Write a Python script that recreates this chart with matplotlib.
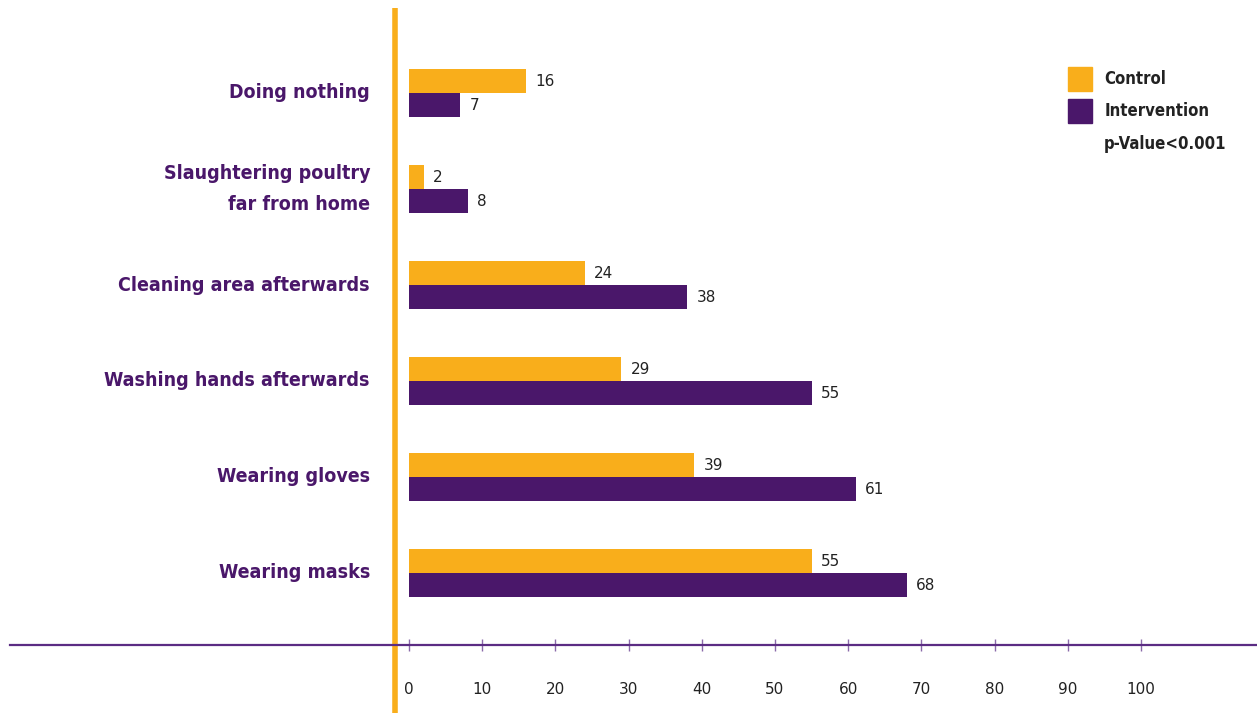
import matplotlib.pyplot as plt
import matplotlib.patches as mpatches

# survey results, % of respondents
categories = ["Wearing masks", "Wearing gloves", "Washing hands afterwards",
              "Cleaning area afterwards", "Slaughtering poultry\nfar from home",
              "Doing nothing"]
control = [55, 39, 29, 24, 2, 16]
intervention = [68, 61, 55, 38, 8, 7]
xticks = [0, 10, 20, 30, 40, 50, 60, 70, 80, 90, 100]

ORANGE = "#F9AE1B"
PURPLE = "#4A176A"

W, H = 1257, 713
fig = plt.figure(figsize=(W / 100, H / 100), dpi=100)
# axes runs across the whole width, bottom spine is the baseline
ax = fig.add_axes([10 / W, (H - 645) / H, (W - 10) / W, (645 - 8) / H])

px = 7.32  # pixels per percent
ax.set_xlim((10 - 409) / px, (1257 - 409) / px)
ax.set_ylim(-0.75, -0.75 + 637 / 96)

ypos = list(range(len(categories)))
bh = 0.25
ax.barh([y + bh / 2 for y in ypos], control, height=bh, left=0, color=ORANGE, label="Control")
ax.barh([y - bh / 2 for y in ypos], intervention, height=bh, left=0, color=PURPLE, label="Intervention")

for y, c, i in zip(ypos, control, intervention):
    ax.text(c + 1.3, y + bh / 2, str(c), va="center", ha="left", fontsize=11, color="#222222")
    ax.text(i + 1.3, y - bh / 2, str(i), va="center", ha="left", fontsize=11, color="#222222")

for y, name in zip(ypos, categories):
    ax.text((370 - 409) / px, y, name, ha="right", va="center", fontsize=14,
            fontweight="bold", fontstretch="condensed", color=PURPLE,
            linespacing=1.83, multialignment="right")

# orange separator between labels and bars
sep = (395 - 409) / px
ax.plot([sep, sep], [-0.75 - 68 / 96, -0.75 + 637 / 96], color=ORANGE, lw=4,
        clip_on=False, solid_capstyle="butt")

for s in ["top", "right", "left"]:
    ax.spines[s].set_visible(False)
ax.spines["bottom"].set_color("#5B2C83")
ax.spines["bottom"].set_linewidth(1.6)
ax.set_yticks([])
ax.set_xticks(xticks)
ax.set_xticklabels([str(t) for t in xticks])
ax.tick_params(axis="x", direction="inout", length=9, width=1, color="#8B6BAA",
               labelsize=11, labelcolor="#222222", pad=22)

blank = mpatches.Patch(facecolor="none", edgecolor="none")
handles = [mpatches.Patch(color=ORANGE), mpatches.Patch(color=PURPLE), blank]
leg = ax.legend(handles, ["Control", "Intervention", "p-Value<0.001"],
                loc="upper left", bbox_to_anchor=(1068 / W, 1 - 67 / H),
                bbox_transform=fig.transFigure, frameon=False, borderpad=0,
                borderaxespad=0, handlelength=1.45, handleheight=1.82,
                handletextpad=0.72, labelspacing=0.5,
                prop={"weight": "bold", "size": 12, "stretch": "condensed"})
for t in leg.get_texts():
    t.set_color("#222222")

fig.savefig("out.png", dpi=100)
